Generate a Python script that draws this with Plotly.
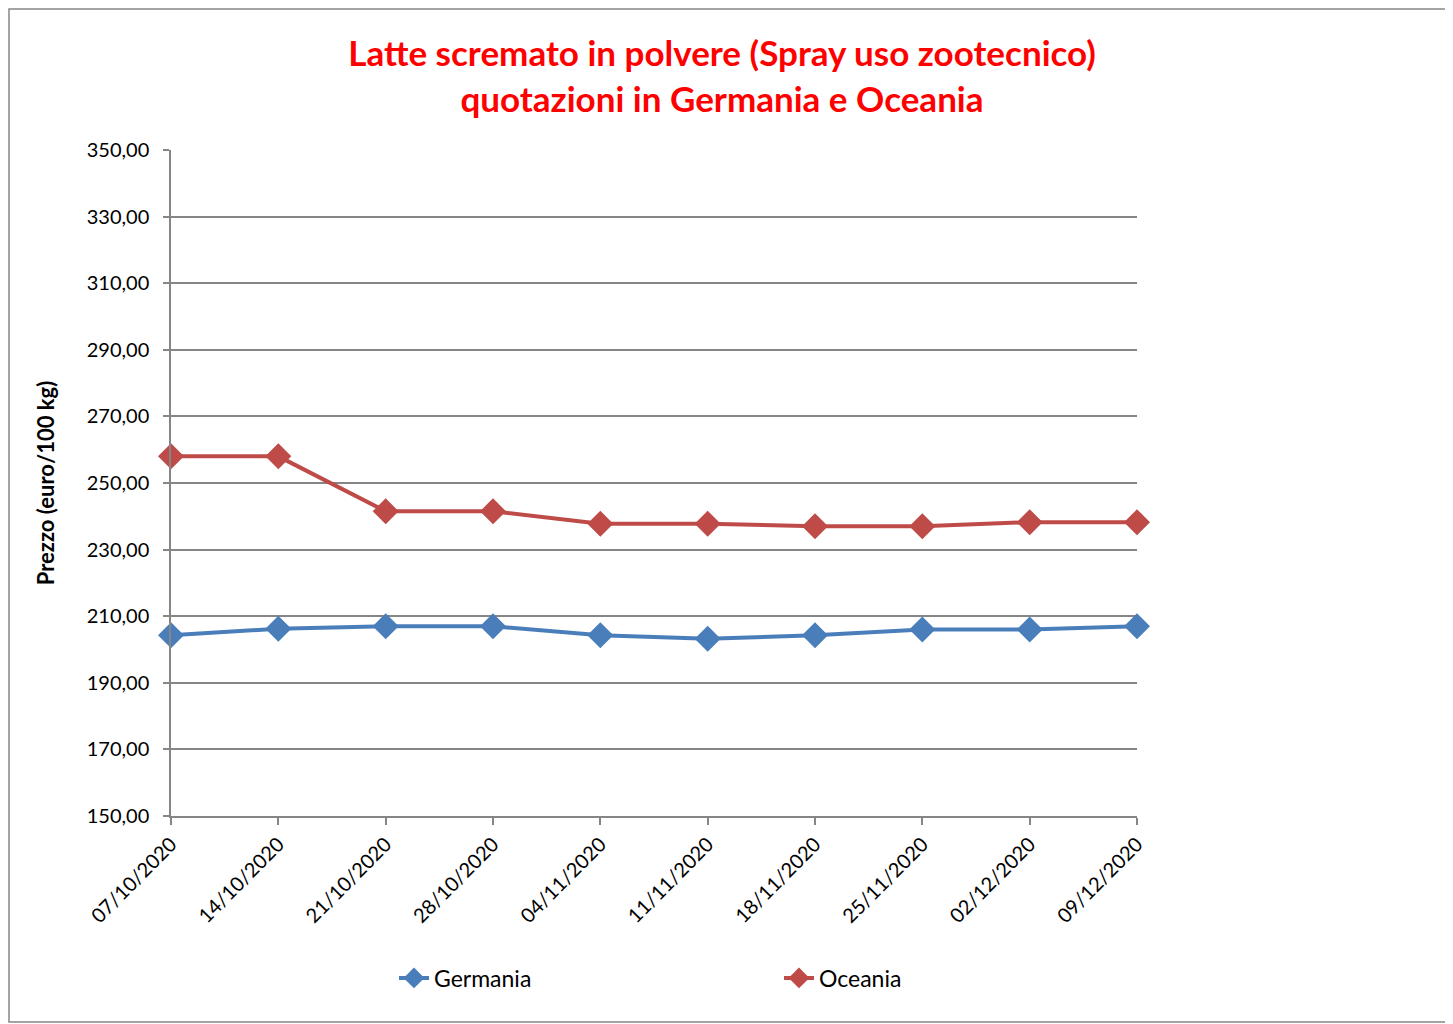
import plotly.graph_objects as go

dates = ["07/10/2020", "14/10/2020", "21/10/2020", "28/10/2020", "04/11/2020",
         "11/11/2020", "18/11/2020", "25/11/2020", "02/12/2020", "09/12/2020"]
germania = [204.25, 206.25, 207.0, 207.0, 204.25, 203.25, 204.25, 206.0, 206.0, 207.0]
oceania = [258.0, 258.0, 241.5, 241.5, 237.75, 237.75, 237.0, 237.0, 238.25, 238.25]
y_ticks = [150, 170, 190, 210, 230, 250, 270, 290, 310, 330, 350]

FONT = "Lato"
GRID = "#868686"

fig = go.Figure()
fig.add_trace(go.Scatter(
    x=dates, y=germania, name="Germania", mode="lines+markers",
    line=dict(color="#4A7EBB", width=4),
    marker=dict(symbol="diamond", size=20, color="#4A7EBB"),
    cliponaxis=False,
))
fig.add_trace(go.Scatter(
    x=dates, y=oceania, name="Oceania", mode="lines+markers",
    line=dict(color="#BE4B48", width=4),
    marker=dict(symbol="diamond", size=20, color="#BE4B48"),
    cliponaxis=False,
))

OFF = 8  # page offset of the figure (body margin)
PL, PR, PT, PB = 171, 1137, 150, 816  # plot area in page px
W, H = 1453 - OFF, 1024 - OFF
L, T = PL - OFF, PT - OFF
R, B = 1453 - PR, 1024 - PB
pw, ph = PR - PL, PB - PT

fig.update_layout(
    width=W, height=H,
    margin=dict(l=L, r=R, t=T, b=B),
    paper_bgcolor="white", plot_bgcolor="white",
    separators=",.",
    font=dict(family=FONT, size=20, color="black"),
    title=dict(
        text="<b>Latte scremato in polvere (Spray uso zootecnico)<br>quotazioni in Germania e Oceania</b>",
        x=(722 - OFF) / W, xref="container", xanchor="center",
        y=1 - 58 / H, yref="container", yanchor="middle",
        font=dict(family=FONT, size=35, color="#FF0000"),
    ),
    xaxis=dict(
        type="category", range=[0, len(dates) - 1],
        showgrid=False, showline=True, linecolor=GRID, linewidth=1.5,
        ticks="outside", ticklen=7, tickcolor=GRID, tickwidth=1.5,
        tickangle=-45, tickfont=dict(family=FONT, size=20),
    ),
    yaxis=dict(
        range=[150, 350], tickvals=y_ticks, tickformat=".2f",
        showgrid=True, gridcolor=GRID, gridwidth=1.5,
        showline=True, linecolor=GRID, linewidth=1.5,
        ticks="outside", ticklen=6, tickcolor=GRID, tickwidth=1.5,
        ticklabelstandoff=10,
        zeroline=False,
        tickfont=dict(family=FONT, size=20),
        title=dict(text="<b>Prezzo (euro/100 kg)</b>", standoff=26,
                   font=dict(family=FONT, size=22)),
    ),
    legend=dict(
        orientation="h", x=(394 - PL) / pw, xanchor="left",
        y=(PB - 978) / ph, yanchor="middle",
        entrywidth=340, entrywidthmode="pixels",
        font=dict(family=FONT, size=23),
        bgcolor="rgba(0,0,0,0)",
    ),
    showlegend=True,
)

# chart border
fig.add_shape(
    type="rect", xref="paper", yref="paper",
    x0=(OFF + 1 - PL) / pw, x1=(1451 - PL) / pw,
    y0=(PB - 1022) / ph, y1=(PB - OFF - 1) / ph,
    line=dict(color=GRID, width=1.5), fillcolor="rgba(0,0,0,0)", layer="below",
)

fig.write_html("out.html")
